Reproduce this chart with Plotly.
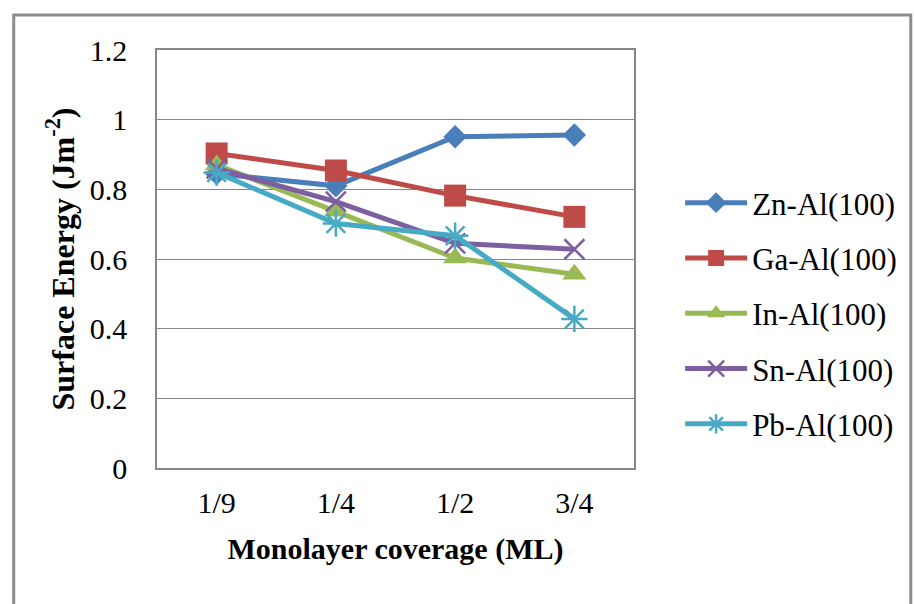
import plotly.graph_objects as go

categories = ["1/9", "1/4", "1/2", "3/4"]
zn = [0.845, 0.81, 0.951, 0.956]
ga = [0.903, 0.854, 0.782, 0.721]
in_ = [0.87, 0.737, 0.603, 0.556]
sn = [0.86, 0.765, 0.645, 0.628]
pb = [0.848, 0.702, 0.667, 0.428]
y_ticks = [0, 0.2, 0.4, 0.6, 0.8, 1, 1.2]
y_tick_labels = ["0", "0.2", "0.4", "0.6", "0.8", "1", "1.2"]

series = [
    ("Zn-Al(100)", zn, "#4a7ebb", "diamond", 18),
    ("Ga-Al(100)", ga, "#be4b48", "square", 22),
    ("In-Al(100)", in_, "#98b954", "triangle-up", 21),
    ("Sn-Al(100)", sn, "#7d5fa0", "x-thin", 20),
    ("Pb-Al(100)", pb, "#46aac5", "asterisk", 22),
]

fig = go.Figure()
for i, (name, vals, color, sym, size) in enumerate(series):
    thin = sym in ("x-thin", "asterisk")
    fig.add_trace(go.Scatter(
        x=categories, y=vals, name=name, mode="lines+markers",
        legendgroup="g%d" % i,
        line=dict(color=color, width=5),
        marker=dict(symbol=sym, size=size, color=color,
                    line=dict(color=color, width=2.5 if thin else 0)),
    ))

font_family = "Liberation Serif, Times New Roman, serif"
fig.update_layout(
    width=914, height=604,
    margin=dict(l=157, r=271, t=50, b=136),
    paper_bgcolor="white", plot_bgcolor="white",
    font=dict(family=font_family, size=30, color="black"),
    showlegend=True,
    legend=dict(x=(690 - 157) / 486, y=(468 - 176) / 418, xanchor="left", yanchor="top",
                xref="paper", yref="paper",
                font=dict(family=font_family, size=31, color="black"),
                itemwidth=62,
                tracegroupgap=12, bgcolor="rgba(0,0,0,0)"),
    xaxis=dict(
        type="category", categoryorder="array", categoryarray=categories,
        showgrid=False, showline=True, linecolor="#868686", linewidth=1.5,
        mirror=True, ticks="", tickfont=dict(size=30), ticklabelstandoff=7,
        title=dict(text="<b>Monolayer coverage (ML)</b>", font=dict(size=30), standoff=20),
        range=[-0.5, 3.5],
    ),
    yaxis=dict(
        range=[0, 1.2], tickvals=y_ticks, ticktext=y_tick_labels,
        showgrid=True, gridcolor="#868686", gridwidth=1.2,
        showline=True, linecolor="#868686", linewidth=1.5, mirror=True,
        ticks="", tickfont=dict(size=30), zeroline=False, ticklabelstandoff=22,
        title=dict(text="<b>Surface Energy (Jm<sup>-2</sup>)</b>", font=dict(size=32), standoff=6),
    ),
    shapes=[dict(type="rect", xref="paper", yref="paper",
                 x0=(11 - 157) / 486, x1=(925 - 157) / 486,
                 y0=(468 - 620) / 418, y1=(468 - 15) / 418,
                 line=dict(color="#8c8c8c", width=3), fillcolor="rgba(0,0,0,0)",
                 layer="below")],
)

fig.write_html("out.html")
